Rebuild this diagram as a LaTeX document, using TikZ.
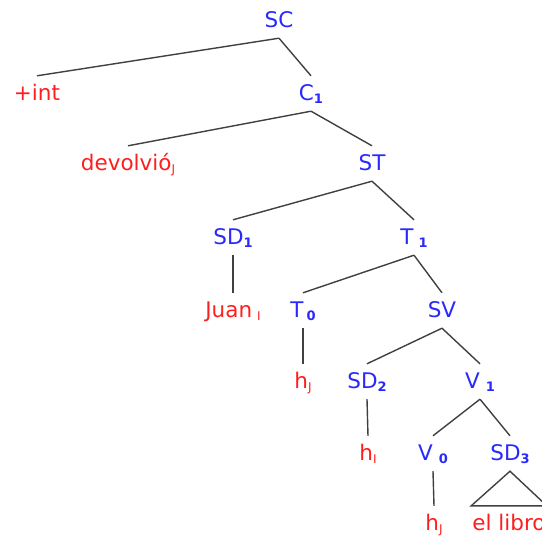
\documentclass[tikz,border=0pt]{standalone}
\usepackage{fontspec}
\setmainfont{DejaVu Sans}
\definecolor{catblue}{RGB}{40,40,255}
\definecolor{wordred}{RGB}{255,30,30}
\definecolor{edgegray}{RGB}{64,64,64}
\newcommand\sub[1]{\raisebox{-3pt}{\fontsize{13}{13}\selectfont\bfseries #1}}
\newcommand\idx[1]{\raisebox{-3pt}{\fontsize{12}{12}\selectfont #1}}
\begin{document}
\begin{tikzpicture}[x=1pt,y=-1pt,
  cat/.style={text=catblue,anchor=base,inner xsep=1pt,inner ysep=9pt,text height=15pt,text depth=2pt},
  word/.style={cat,text=wordred},
  edge/.style={draw=edgegray,line width=1.4pt}]
\useasboundingbox (0,0) rectangle (542,536);
\fontsize{21.5}{25}\selectfont
% categories
\node[cat] (SC) at (279,27) {SC};
\node[word] (int) at (37,100) {+int};
\node[cat] (C1) at (311,100) {C\sub{1}};
\node[word] (devolvio) at (128,170) {devolvió\idx{J}};
\node[cat] (ST) at (372,170) {ST};
\node[cat] (SD1) at (233,244) {SD\sub{1}};
\node[cat] (T1) at (414,244) {T\hspace{5pt}\sub{1}};
\node[word] (Juan) at (233,317) {Juan\hspace{5pt}\idx{I}};
\node[cat] (T0) at (303,317) {T\hspace{3pt}\sub{0}};
\node[cat] (SV) at (442,317) {SV};
\node[word] (hJa) at (303,388) {h\idx{J}};
\node[cat] (SD2) at (367,388) {SD\sub{2}};
\node[cat] (V1) at (480,388) {V\hspace{6pt}\sub{1}};
\node[word] (hI) at (368,460) {h\idx{I}};
\node[cat] (V0) at (433,460) {V\hspace{6pt}\sub{0}};
\node[cat] (SD3) at (510,460) {SD\sub{3}};
\node[word] (hJb) at (434,530) {h\idx{J}};
\node[word] (libro) at (509,530) {el libro};
% branches
\path[edge] (SC.south) -- (int.north);
\path[edge] (SC.south) -- (C1.north);
\path[edge] (C1.south) -- (devolvio.north);
\path[edge] (C1.south) -- (ST.north);
\path[edge] (ST.south) -- (SD1.north);
\path[edge] (ST.south) -- (T1.north);
\path[edge] (SD1.south) -- (Juan.north);
\path[edge] (T1.south) -- (T0.north);
\path[edge] (T1.south) -- (SV.north);
\path[edge] (T0.south) -- (hJa.north);
\path[edge] (SV.south) -- (SD2.north);
\path[edge] (SV.south) -- (V1.north);
\path[edge] (SD2.south) -- (hI.north);
\path[edge] (V1.south) -- (V0.north);
\path[edge] (V1.south) -- (SD3.north);
\path[edge] (V0.south) -- (hJb.north);
\path[edge] (SD3.south) -- (libro.north west) -- (libro.north east) -- cycle;
\end{tikzpicture}
\end{document}
